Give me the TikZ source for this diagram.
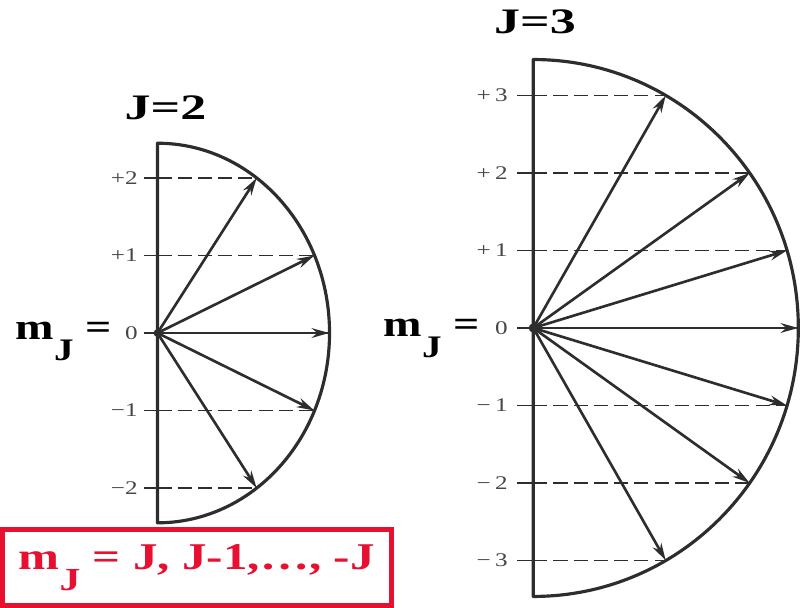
\documentclass[tikz,border=0pt]{standalone}
\usepackage{fontspec}
\setmainfont{Liberation Serif}
\usetikzlibrary{arrows.meta}

\definecolor{ink}{RGB}{45,45,45}
\definecolor{labelgray}{RGB}{70,70,70}
\definecolor{boxred}{RGB}{232,16,48}

% the printed text is set a little wide
\newcommand{\wide}[2][1.3]{\scalebox{#1}[1]{#2}}
\newcommand{\mJ}{m\raisebox{-0.55em}{\scalebox{0.85}{J}}}

\begin{document}
\begin{tikzpicture}[x=1.55cm,y=1.55cm,
    vec/.style={-{Stealth[length=10pt,width=5.5pt]},line width=1.5pt,draw=ink},
    rim/.style={line width=1.8pt,draw=ink,line join=round},
    level/.style={dash pattern=on 8pt off 3.5pt,line width=1pt,draw=ink},
    tick/.style={line width=1pt,draw=ink},
    mlabel/.style={anchor=east,inner sep=0pt,text=labelgray,
      font=\fontsize{11}{12}\selectfont},
    title/.style={anchor=base,inner sep=0pt,
      font=\bfseries\fontsize{20.4}{24}\selectfont},
    mjlabel/.style={anchor=base east,inner sep=0pt,
      font=\bfseries\fontsize{21}{24}\selectfont},
    rulebox/.style={draw=boxred,line width=2.8pt,text=boxred,inner sep=0pt,
      minimum width=7.78cm,minimum height=1.52cm,
      font=\bfseries\fontsize{21.5}{24}\selectfont}]

\useasboundingbox (-2.032,-3.548) rectangle (8.368,4.297);

% J=2
\coordinate (L) at (0,0);
\draw[rim] (0,-2.449) -- (0,2.449)
    arc[start angle=90,end angle=-90,x radius=2.22,y radius=2.449] -- cycle;
\fill[ink] (L) circle (2.2pt);

\foreach \m/\txt in {2/+2,1/+1,0/0,-1/−1,-2/−2} {
  \coordinate (Ltip\m) at ({0.905*sqrt(6-(\m)*(\m))},\m);
  \draw[tick] (-0.17,\m) -- (0,\m);
  \draw[level] (0,\m) -- (Ltip\m);
  \draw[vec] (L) -- (Ltip\m);
  \node[mlabel] (Llab\m) at (-0.252,\m) {\wide{\txt}};
}

\node[title] (Ltitle) at (0.103,2.761) {\wide[1.45]{J=2}};
\node[mjlabel] (Lmj) at (-0.587,-0.09) {\wide[1.25]{\mJ\ =}};

% J=3
\begin{scope}[shift={(4.849,0.065)}]
\coordinate (R) at (0,0);
\draw[rim] (0,-3.464) -- (0,3.464)
    arc[start angle=90,end angle=-90,x radius=3.42,y radius=3.464] -- cycle;
\fill[ink] (R) circle (2.6pt);

\foreach \m/\txt in {3/+\,3,2/+\,2,1/+\,1,0/0,-1/−\,1,-2/−\,2,-3/−\,3} {
  \coordinate (Rtip\m) at ({0.987*sqrt(12-(\m)*(\m))},\m);
  \draw[tick] (-0.21,\m) -- (0,\m);
  \draw[level] (0,\m) -- (Rtip\m);
  \draw[vec] (R) -- (Rtip\m);
  \node[mlabel] (Rlab\m) at (-0.326,\m) {\wide{\txt}};
}
\end{scope}

\node[title] (Rtitle) at (4.871,3.871) {\wide[1.45]{J=3}};
\node[mjlabel] (Rmj) at (4.161,-0.048) {\wide[1.25]{\mJ\ =}};

% Rule
\node[rulebox] (rule) at (0.506,-3.026) {\wide{\mJ\ = J, J-1,\dots, -J}};

\end{tikzpicture}
\end{document}
